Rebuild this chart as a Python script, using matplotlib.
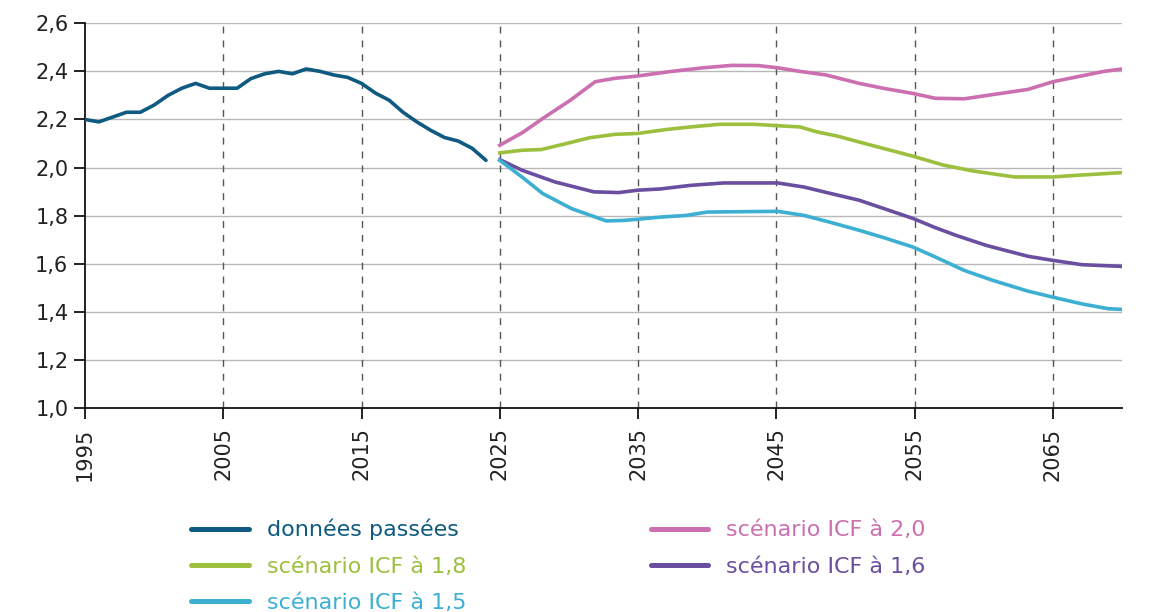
import matplotlib
matplotlib.use("Agg")
import matplotlib.pyplot as plt
from matplotlib.lines import Line2D

# ---- data ----
hist_years = list(range(1995, 2025))
hist_vals = [2.20, 2.19, 2.21, 2.23, 2.23, 2.26, 2.30, 2.33, 2.35, 2.33,
             2.33, 2.33, 2.37, 2.39, 2.40, 2.39, 2.41, 2.40, 2.385, 2.375,
             2.35, 2.31, 2.28, 2.23, 2.19, 2.155, 2.125, 2.11, 2.08, 2.03]

s20_years = [2025, 2026.6, 2028.1, 2030.1, 2031.9, 2033.3, 2035, 2037.3, 2039.7, 2041.8,
             2043.7, 2045.1, 2046.7, 2048.6, 2051, 2052.8, 2054.9, 2056.5, 2058.6, 2060.7,
             2063.2, 2065, 2066.8, 2068.7, 2070]
s20_vals = [2.093, 2.144, 2.204, 2.28, 2.357, 2.371, 2.381, 2.399, 2.415, 2.425,
            2.424, 2.415, 2.40, 2.385, 2.35, 2.329, 2.308, 2.288, 2.286, 2.304,
            2.325, 2.357, 2.378, 2.40, 2.41]

s18_years = [2025, 2026.6, 2028, 2029.6, 2031.5, 2033.3, 2035, 2037, 2038.8, 2040.9,
             2043.4, 2045.1, 2046.7, 2047.9, 2049.4, 2051.6, 2054.9, 2057.1, 2059.2, 2062.2,
             2065, 2066.8, 2070]
s18_vals = [2.061, 2.072, 2.075, 2.097, 2.124, 2.138, 2.142, 2.158, 2.169, 2.18,
            2.18, 2.174, 2.169, 2.149, 2.131, 2.097, 2.047, 2.01, 1.986, 1.961,
            1.961, 1.968, 1.979]

s16_years = [2025, 2026.6, 2029, 2031.8, 2033.6, 2035, 2036.6, 2038.8, 2041.2, 2045.1,
             2047, 2048.8, 2051, 2052.8, 2054.9, 2056.5, 2058, 2060.2, 2063.2, 2065,
             2067.1, 2070]
s16_vals = [2.033, 1.989, 1.94, 1.899, 1.896, 1.906, 1.911, 1.926, 1.936, 1.936,
            1.919, 1.894, 1.864, 1.829, 1.788, 1.75, 1.718, 1.676, 1.631, 1.614,
            1.596, 1.589]

s15_years = [2025, 2026.6, 2028.1, 2030.2, 2032.7, 2033.9, 2035, 2036.6, 2038.5, 2040,
             2045.1, 2047, 2048.8, 2051, 2052.8, 2054.9, 2056.5, 2058.6, 2060.7, 2063.2,
             2065, 2067.1, 2069, 2070]
s15_vals = [2.03, 1.961, 1.892, 1.829, 1.778, 1.78, 1.785, 1.794, 1.801, 1.815,
            1.818, 1.801, 1.774, 1.739, 1.708, 1.669, 1.628, 1.572, 1.53, 1.486,
            1.461, 1.433, 1.413, 1.41]

x_ticks = [1995, 2005, 2015, 2025, 2035, 2045, 2055, 2065]
y_ticks = [1.0, 1.2, 1.4, 1.6, 1.8, 2.0, 2.2, 2.4, 2.6]
y_labels = ["1,0", "1,2", "1,4", "1,6", "1,8", "2,0", "2,2", "2,4", "2,6"]

labels = ["données passées", "scénario ICF à 1,8", "scénario ICF à 1,5",
          "scénario ICF à 2,0", "scénario ICF à 1,6"]
c_hist = "#0f5a80"
c_20 = "#cc6fb0"
c_18 = "#9dbf3e"
c_16 = "#6a4fa0"
c_15 = "#3cafd2"

# ---- figure ----
fig = plt.figure(figsize=(11.56, 6.12), dpi=100)
ax = fig.add_axes([85 / 1156, 1 - 408 / 612, (1122 - 85) / 1156, (408 - 23.3) / 612])

lw = 2.6
ax.plot(hist_years, hist_vals, color=c_hist, lw=lw, solid_capstyle="round", zorder=5)
ax.plot(s20_years, s20_vals, color=c_20, lw=lw, zorder=5)
ax.plot(s18_years, s18_vals, color=c_18, lw=lw, zorder=5)
ax.plot(s16_years, s16_vals, color=c_16, lw=lw, zorder=5)
ax.plot(s15_years, s15_vals, color=c_15, lw=lw, zorder=5)

ax.set_xlim(1995, 2070)
ax.set_ylim(1.0, 2.6)

for yv in y_ticks[1:]:
    ax.axhline(yv, color="#b8b8b8", lw=1.0, zorder=1)
for xv in x_ticks[1:]:
    ax.axvline(xv, color="#555555", lw=1.0, ls=(0, (5, 5)), zorder=1)

for s in ["top", "right"]:
    ax.spines[s].set_visible(False)
for s in ["left", "bottom"]:
    ax.spines[s].set_color("#111111")
    ax.spines[s].set_linewidth(1.3)

ax.set_yticks(y_ticks)
ax.set_yticklabels(y_labels)
ax.set_xticks(x_ticks)
ax.set_xticklabels([str(x) for x in x_ticks], rotation=90)
ax.tick_params(axis="both", direction="out", length=8, width=1.3, color="#111111",
               labelsize=15, labelcolor="#222222")
ax.tick_params(axis="y", pad=4)
ax.tick_params(axis="x", pad=6)

handles = [Line2D([], [], color=c, lw=3.6, solid_capstyle="round")
           for c in [c_hist, c_18, c_15, c_20, c_16]]
leg = fig.legend(handles, labels, loc="upper left", bbox_to_anchor=(171 / 1156, 1 - 499 / 612),
                 ncol=2, frameon=False, handlelength=2.6, handletextpad=0.8,
                 columnspacing=8.3, labelspacing=0.73,
                 prop={"family": ["DejaVu Sans"], "size": 16})
for t, c in zip(leg.get_texts(), [c_hist, c_18, c_15, c_20, c_16]):
    t.set_color(c)

fig.savefig("out.png", dpi=100)
